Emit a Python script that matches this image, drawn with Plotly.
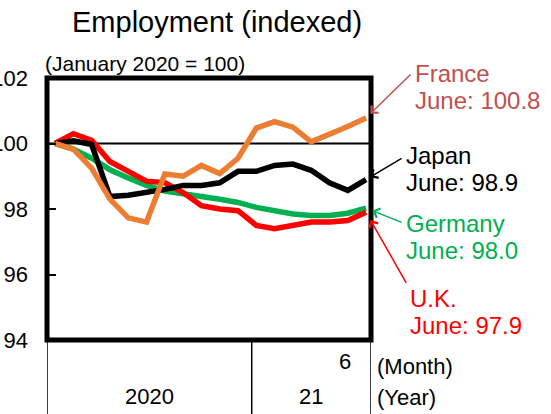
import plotly.graph_objects as go

# Monthly employment index, January 2020 = 100 (Jan 2020 .. Jun 2021)
months = list(range(18))
uk = [100.0, 100.3, 100.1, 99.45, 99.15, 98.85, 98.8, 98.5, 98.1, 98.0, 97.95, 97.5,
      97.4, 97.5, 97.6, 97.6, 97.65, 97.9]
germany = [100.0, 99.83, 99.55, 99.2, 98.95, 98.72, 98.55, 98.45, 98.38, 98.3, 98.2, 98.05,
           97.93, 97.85, 97.8, 97.8, 97.87, 98.03]
japan = [100.0, 100.08, 99.97, 98.38, 98.42, 98.5, 98.6, 98.72, 98.72, 98.8, 99.15, 99.15,
         99.33, 99.37, 99.18, 98.8, 98.57, 98.9]
france = [100.0, 99.83, 99.25, 98.3, 97.73, 97.6, 99.07, 99.0, 99.33, 99.08, 99.55, 100.47,
          100.67, 100.5, 100.05, 100.27, 100.52, 100.78]

y_ticks = [94, 96, 98, 100, 102]
BASE = 100
year_labels = ["2020", "21"]
year_bounds = [-0.44, 10.75, 17.27]
month_label = "6"

FONT = "Liberation Sans, Arial, sans-serif"
W, H = 551, 414
L, R, T, B = 47, 180, 78, 74
PW, PH = W - L - R, H - T - B


def paper(px, py):
    return (px - L) / PW, (H - B - py) / PH


fig = go.Figure()

series = [
    ("Germany", germany, "#00B050"),
    ("U.K.", uk, "#FF0000"),
    ("Japan", japan, "#000000"),
    ("France", france, "#ED7D31"),
]
for name, vals, color in series:
    fig.add_trace(go.Scatter(
        x=months, y=vals, mode="lines", name=name,
        line=dict(color=color, width=5.5), showlegend=False,
    ))

# reference line at the base value
fig.add_shape(type="line", xref="paper", x0=0, x1=1, yref="y", y0=BASE, y1=BASE,
              line=dict(color="black", width=1.8), layer="below")
# thick frame
fig.add_shape(type="rect", xref="paper", yref="paper", x0=0, x1=1, y0=0, y1=1,
              line=dict(color="black", width=5))
# year separators below the axis
for xb in year_bounds:
    fig.add_shape(type="line", xref="x", yref="paper", x0=xb, x1=xb, y0=0, y1=-B / PH,
                  line=dict(color="black", width=1.5))

ann = []


def text(s, px, py, size=22, color="black", xanchor="center"):
    xp, yp = paper(px, py)
    ann.append(dict(text=s, x=xp, y=yp, xref="paper", yref="paper", showarrow=False,
                    xanchor=xanchor, yanchor="middle",
                    font=dict(family=FONT, size=size, color=color)))


text("Employment (indexed)", 217, 22, size=29)
text("(January 2020 = 100)", 145, 63, size=21)

# year labels centred between separators
for i, lab in enumerate(year_labels):
    xmid = (year_bounds[i] + year_bounds[i + 1]) / 2
    ann.append(dict(text=lab, x=xmid, y=paper(0, 396)[1], xref="x", yref="paper",
                    showarrow=False, xanchor="center", yanchor="middle",
                    font=dict(family=FONT, size=22, color="black")))
ann.append(dict(text=month_label, x=15.85, y=paper(0, 361)[1], xref="x", yref="paper",
                showarrow=False, xanchor="center", yanchor="middle",
                font=dict(family=FONT, size=22, color="black")))
text("(Month)", 375, 366, xanchor="left")
text("(Year)", 375, 397, xanchor="left")

# callouts: (series values, colour, tail offset, standoff, label lines, label position)
callouts = [
    (france, "#C0504D", 46, -45, 6, ["France", "June: 100.8"], 413, 73),
    (japan, "#000000", 37, -22, 5, ["Japan", "June: 98.9"], 404, 155),
    (germany, "#00B050", 37, 15, 7, ["Germany", "June: 98.0"], 404, 223),
    (uk, "#FF0000", 41, 72, 9, ["U.K.", "June: 97.9"], 408, 298),
]
for vals, color, ax, ay, stand, lines, lx, ly in callouts:
    ann.append(dict(text="", x=months[-1], y=vals[-1], xref="x", yref="y",
                    ax=ax, ay=ay, showarrow=True, arrowhead=4, arrowsize=1.3,
                    arrowwidth=1.5, arrowcolor=color, standoff=stand))
    for k, line in enumerate(lines):
        text(line, lx, ly + 27 * k, size=24, color=color, xanchor="left")

fig.update_layout(
    width=W, height=H,
    margin=dict(l=L, r=R, t=T, b=B, autoexpand=False),
    plot_bgcolor="white", paper_bgcolor="white",
    font=dict(family=FONT, size=22, color="black"),
    annotations=ann,
)
fig.update_xaxes(range=[year_bounds[0], year_bounds[-1]], showgrid=False, zeroline=False,
                 showticklabels=False, ticks="", showline=False, automargin=False)
fig.update_yaxes(range=[94, 102], tickvals=y_ticks, ticktext=[str(v) for v in y_ticks],
                 showgrid=False, zeroline=False, showline=False, automargin=False,
                 ticks="inside", ticklen=9, tickwidth=1.5, tickcolor="black",
                 ticklabelstandoff=18, tickfont=dict(family=FONT, size=22))

# page has no body margin so the figure sits at the window's top-left corner
fig.write_html("out.html", config={"displayModeBar": False},
               post_script="document.body.style.margin='0';")
